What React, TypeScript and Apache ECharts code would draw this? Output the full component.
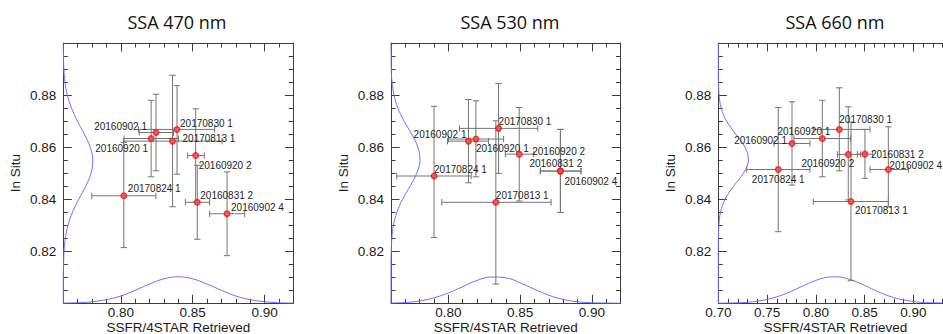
import React, { useEffect, useRef } from 'react';
import * as echarts from 'echarts';

const TITLES = ['SSA 470 nm', 'SSA 530 nm', 'SSA 660 nm'];
const X_NAME = 'SSFR/4STAR Retrieved';
const Y_NAME = 'In Situ';

const POINT_NAMES = ['20160902 1', '20170830 1', '20160920 1', '20170813 1', '20160920 2', '20160831 2', '20170824 1', '20160902 4'];

// SSA 470 nm
const X_470 = [0.8245, 0.8391, 0.8211, 0.836, 0.8521, 0.8532, 0.8021, 0.8739];
const Y_470 = [0.8656, 0.8668, 0.8633, 0.8623, 0.8568, 0.8388, 0.8413, 0.8344];
const X_LO_470 = [0.8128, 0.8123, 0.8023, 0.8018, 0.8465, 0.8449, 0.7798, 0.8618];
const X_HI_470 = [0.8367, 0.8653, 0.8402, 0.8704, 0.8581, 0.8618, 0.8244, 0.8862];
const Y_LO_470 = [0.8509, 0.8496, 0.8486, 0.8371, 0.8389, 0.8246, 0.8214, 0.8183];
const Y_HI_470 = [0.8803, 0.8836, 0.878, 0.8876, 0.8747, 0.853, 0.8618, 0.8505];

// SSA 530 nm
const X_530 = [0.814, 0.835, 0.8192, 0.8331, 0.8494, 0.8781, 0.79, 0.8781];
const Y_530 = [0.8623, 0.8672, 0.8631, 0.8388, 0.8573, 0.8508, 0.8489, 0.8508];
const X_LO_530 = [0.7994, 0.8078, 0.8001, 0.7954, 0.8397, 0.8641, 0.764, 0.8641];
const X_HI_530 = [0.828, 0.8623, 0.8385, 0.8716, 0.8595, 0.8925, 0.8159, 0.8925];
const Y_LO_530 = [0.8463, 0.8499, 0.8486, 0.8074, 0.8393, 0.8349, 0.8253, 0.8349];
const Y_HI_530 = [0.8783, 0.8844, 0.8778, 0.8701, 0.8752, 0.8668, 0.8757, 0.8668];

// SSA 660 nm
const X_660 = [0.7756, 0.8241, 0.8067, 0.8361, 0.8333, 0.8504, 0.7615, 0.8744];
const Y_660 = [0.8614, 0.8668, 0.8633, 0.8391, 0.8572, 0.8573, 0.8514, 0.8514];
const X_LO_660 = [0.7571, 0.7974, 0.7776, 0.7974, 0.8221, 0.8426, 0.7291, 0.8556];
const X_HI_660 = [0.794, 0.8556, 0.8357, 0.8744, 0.846, 0.8583, 0.794, 0.8949];
const Y_LO_660 = [0.8454, 0.8509, 0.8486, 0.8087, 0.8397, 0.848, 0.8275, 0.8371];
const Y_HI_660 = [0.8774, 0.8828, 0.878, 0.8696, 0.8755, 0.8668, 0.8752, 0.8678];

// distribution curves
const CURVE_Y = [0.8, 0.805, 0.81, 0.815, 0.82, 0.825, 0.83, 0.835, 0.84, 0.845, 0.85, 0.855, 0.86, 0.865, 0.87, 0.875, 0.88, 0.885, 0.89, 0.895, 0.9];
const LEFT_CURVE_470 = [0.76, 0.76, 0.76, 0.7602, 0.7605, 0.7614, 0.7633, 0.7664, 0.7708, 0.7756, 0.7793, 0.7805, 0.7787, 0.7746, 0.7698, 0.7657, 0.7628, 0.7612, 0.7604, 0.7601, 0.76];
const LEFT_CURVE_530 = [0.76, 0.76, 0.76, 0.76, 0.7602, 0.7606, 0.7617, 0.7641, 0.7681, 0.7733, 0.778, 0.7802, 0.7787, 0.7744, 0.7691, 0.7648, 0.7621, 0.7607, 0.7602, 0.7601, 0.76];
const LEFT_CURVE_660 = [0.7, 0.7, 0.7, 0.7, 0.7, 0.7001, 0.7006, 0.7023, 0.707, 0.7157, 0.7257, 0.7309, 0.7273, 0.7178, 0.7085, 0.703, 0.7008, 0.7001, 0.7, 0.7, 0.7];

const CURVE_X_12 = [0.76, 0.77, 0.78, 0.79, 0.8, 0.81, 0.82, 0.83, 0.84, 0.85, 0.86, 0.87, 0.88, 0.89, 0.9, 0.91, 0.92];
const CURVE_X_3 = [0.7, 0.71, 0.72, 0.73, 0.74, 0.75, 0.76, 0.77, 0.78, 0.79, 0.8, 0.81, 0.82, 0.83, 0.84, 0.85, 0.86, 0.87, 0.88, 0.89, 0.9, 0.91, 0.92, 0.93, 0.94];
const BOTTOM_CURVE_470 = [0.8001, 0.8002, 0.8006, 0.8014, 0.8028, 0.805, 0.8074, 0.8094, 0.8102, 0.8094, 0.8074, 0.805, 0.8028, 0.8014, 0.8006, 0.8002, 0.8001];
const BOTTOM_CURVE_530 = [0.8001, 0.8003, 0.8009, 0.8021, 0.804, 0.8064, 0.8088, 0.8101, 0.8098, 0.8079, 0.8054, 0.8031, 0.8015, 0.8006, 0.8002, 0.8001, 0.8];
const BOTTOM_CURVE_660 = [0.8, 0.8001, 0.8002, 0.8004, 0.8008, 0.8015, 0.8025, 0.8038, 0.8055, 0.8072, 0.8088, 0.8099, 0.8102, 0.8097, 0.8085, 0.8069, 0.8051, 0.8035, 0.8022, 0.8013, 0.8007, 0.8003, 0.8002, 0.8001, 0.8];

// axes
const X_RANGE_12 = [0.76, 0.92];
const X_RANGE_3 = [0.7, 0.94];
const Y_RANGE = [0.8, 0.9];
const X_LABELS_12 = ['0.80', '0.85', '0.90'];
const X_LABELS_3 = ['0.70', '0.75', '0.80', '0.85', '0.90'];
const Y_LABELS = ['0.82', '0.84', '0.86', '0.88'];

// layout (pixels) and label placement [dx, dy, align]
const GRIDS = [
  { left: 63.3, width: 230, titleX: 177 },
  { left: 391, width: 229.5, titleX: 510 },
  { left: 718.3, width: 234, titleX: 835 },
];
const GRID_TOP = 43;
const GRID_HEIGHT = 260.3;
const LABEL_LAYOUT: [number, number, string][][] = [
  [[-9, -6, 'right'], [3, -6, 'left'], [-3, 10, 'right'], [10, -3, 'left'], [3, 10, 'left'], [3, -7, 'left'], [4, -7, 'left'], [4, -6, 'left']],
  [[-2, -7, 'right'], [0, -7, 'left'], [0, 9, 'left'], [0, -7, 'left'], [13, -3, 'left'], [-31, -8, 'left'], [0, -7, 'left'], [4, 10, 'left']],
  [[-5, -3, 'right'], [0, -10, 'left'], [8, -7, 'right'], [4, 9, 'left'], [6, 9, 'right'], [6, 0, 'left'], [0, 10, 'center'], [1, -4, 'left']],
];

const FONT = '"Liberation Sans", Arial, Helvetica, sans-serif';
const FRAME = '#3c3c3c';
const ERR = '#747474';
const BLUE = '#6f6fff';

const PANELS = [
  { x: X_470, y: Y_470, xlo: X_LO_470, xhi: X_HI_470, ylo: Y_LO_470, yhi: Y_HI_470, left: LEFT_CURVE_470, cx: CURVE_X_12, bottom: BOTTOM_CURVE_470, xr: X_RANGE_12, xl: X_LABELS_12 },
  { x: X_530, y: Y_530, xlo: X_LO_530, xhi: X_HI_530, ylo: Y_LO_530, yhi: Y_HI_530, left: LEFT_CURVE_530, cx: CURVE_X_12, bottom: BOTTOM_CURVE_530, xr: X_RANGE_12, xl: X_LABELS_12 },
  { x: X_660, y: Y_660, xlo: X_LO_660, xhi: X_HI_660, ylo: Y_LO_660, yhi: Y_HI_660, left: LEFT_CURVE_660, cx: CURVE_X_3, bottom: BOTTOM_CURVE_660, xr: X_RANGE_3, xl: X_LABELS_3 },
];

function tickCats(min: number, max: number, step: number) {
  const n = Math.round((max - min) / step);
  const out: string[] = [];
  for (let i = 0; i <= n; i++) out.push((min + i * step).toFixed(3));
  return out;
}
const findLabel = (labels: string[], v: string) => labels.find((l) => Math.abs(parseFloat(l) - parseFloat(v)) < 1e-6);

function buildOption() {
  const grid: any[] = [];
  const xAxis: any[] = [];
  const yAxis: any[] = [];
  const series: any[] = [];
  const title: any[] = [];
  const lineStyle = { color: FRAME, width: 1 };
  const labelStyle = { fontSize: 13.5, fontFamily: FONT, color: '#1b1b1b', lineHeight: 14 };

  PANELS.forEach((p, gi) => {
    const g = GRIDS[gi];
    grid.push({ left: g.left, top: GRID_TOP, width: g.width, height: GRID_HEIGHT, containLabel: false, outerBoundsMode: 'none' });
    title.push({ text: TITLES[gi], left: g.titleX, top: 13, textAlign: 'center', padding: 0, textStyle: { fontFamily: '"Open Sans", sans-serif', fontSize: 18, fontWeight: 'normal', color: '#111' } });

    const xc = tickCats(p.xr[0], p.xr[1], 0.01);
    const yc = tickCats(Y_RANGE[0], Y_RANGE[1], 0.005);
    const xMajor = (_i: number, v: string) => !!findLabel(p.xl, v);
    const yMajor = (_i: number, v: string) => !!findLabel(Y_LABELS, v);
    const cx = { gridIndex: gi, type: 'category', data: xc, boundaryGap: false, splitLine: { show: false }, silent: true };
    const cy = { gridIndex: gi, type: 'category', data: yc, boundaryGap: false, splitLine: { show: false }, silent: true };
    const minorTick = { show: true, inside: true, length: 4.5, interval: 0, lineStyle };
    const noLabel = { show: false };

    xAxis.push(
      { gridIndex: gi, type: 'value', min: p.xr[0], max: p.xr[1], show: false },
      { ...cx, position: 'bottom', axisLine: { show: true, onZero: false, lineStyle }, axisTick: minorTick, axisLabel: noLabel },
      {
        ...cx, position: 'bottom', axisLine: { show: false, onZero: false },
        axisTick: { show: true, inside: true, length: 8.5, interval: xMajor, lineStyle },
        axisLabel: { show: true, interval: 0, margin: 2, formatter: (v: string) => findLabel(p.xl, v) || '', ...labelStyle },
        name: X_NAME, nameLocation: 'middle', nameGap: 17, nameMoveOverlap: false, nameTextStyle: { ...labelStyle },
      },
      { ...cx, position: 'top', axisLine: { show: true, onZero: false, lineStyle }, axisTick: minorTick, axisLabel: noLabel },
      { ...cx, position: 'top', axisLine: { show: false, onZero: false }, axisTick: { show: true, inside: true, length: 8.5, interval: xMajor, lineStyle }, axisLabel: noLabel },
    );
    yAxis.push(
      { gridIndex: gi, type: 'value', min: Y_RANGE[0], max: Y_RANGE[1], show: false },
      { ...cy, position: 'left', axisLine: { show: true, onZero: false, lineStyle }, axisTick: minorTick, axisLabel: noLabel },
      {
        ...cy, position: 'left', axisLine: { show: false, onZero: false },
        axisTick: { show: true, inside: true, length: 8.5, interval: yMajor, lineStyle },
        axisLabel: { show: true, interval: 0, margin: 7, formatter: (v: string) => findLabel(Y_LABELS, v) || '', ...labelStyle },
        name: Y_NAME, nameLocation: 'middle', nameGap: 41, nameMoveOverlap: false, nameTextStyle: { ...labelStyle },
      },
      { ...cy, position: 'right', axisLine: { show: true, onZero: false, lineStyle }, axisTick: minorTick, axisLabel: noLabel },
      { ...cy, position: 'right', axisLine: { show: false, onZero: false }, axisTick: { show: true, inside: true, length: 8.5, interval: yMajor, lineStyle }, axisLabel: noLabel },
    );

    const xi = gi * 5;
    const yi = gi * 5;
    const errData = p.x.map((x, i) => [x, p.y[i], p.xlo[i], p.xhi[i], p.ylo[i], p.yhi[i]]);

    series.push({
      type: 'line', xAxisIndex: xi, yAxisIndex: yi, data: p.left.map((x, i) => [x, CURVE_Y[i]]),
      symbol: 'none', smooth: 0.4, lineStyle: { color: BLUE, width: 1 }, silent: true, z: 1,
    });
    series.push({
      type: 'line', xAxisIndex: xi, yAxisIndex: yi, data: p.bottom.map((y, i) => [p.cx[i], y]),
      symbol: 'none', smooth: 0.4, lineStyle: { color: BLUE, width: 1 }, silent: true, z: 1,
    });
    series.push({
      type: 'custom', xAxisIndex: xi, yAxisIndex: yi, data: errData, silent: true, z: 2,
      encode: { x: [0, 2, 3], y: [1, 4, 5] },
      renderItem: (_params: any, api: any) => {
        const x = api.value(0), y = api.value(1);
        const pL = api.coord([api.value(2), y]);
        const pR = api.coord([api.value(3), y]);
        const pB = api.coord([x, api.value(4)]);
        const pT = api.coord([x, api.value(5)]);
        const c = 3.2;
        const style = { stroke: ERR, lineWidth: 1 };
        const ln = (x1: number, y1: number, x2: number, y2: number) => ({ type: 'line', shape: { x1, y1, x2, y2 }, style });
        return {
          type: 'group',
          children: [
            ln(pL[0], pL[1], pR[0], pR[1]),
            ln(pL[0], pL[1] - c, pL[0], pL[1] + c),
            ln(pR[0], pR[1] - c, pR[0], pR[1] + c),
            ln(pB[0], pB[1], pT[0], pT[1]),
            ln(pB[0] - c, pB[1], pB[0] + c, pB[1]),
            ln(pT[0] - c, pT[1], pT[0] + c, pT[1]),
          ],
        };
      },
    });
    series.push({
      type: 'custom', xAxisIndex: xi, yAxisIndex: yi, silent: true, z: 3,
      data: p.x.map((x, i) => [x, p.y[i], i]),
      encode: { x: 0, y: 1 },
      renderItem: (_params: any, api: any) => {
        const pt = api.coord([api.value(0), api.value(1)]);
        const i = api.value(2);
        const L = LABEL_LAYOUT[gi][i];
        return {
          type: 'text', x: pt[0] + L[0], y: pt[1] + L[1],
          style: {
            text: POINT_NAMES[i], align: L[2], textAlign: L[2], verticalAlign: 'middle', textVerticalAlign: 'middle',
            font: `10px ${FONT}`, fill: '#1e1e1e',
          },
        };
      },
    });
    series.push({
      type: 'scatter', xAxisIndex: xi, yAxisIndex: yi, data: p.x.map((x, i) => [x, p.y[i]]),
      symbol: 'circle', symbolSize: 5.5, silent: true, z: 4,
      itemStyle: { color: '#ff4a4a', borderColor: '#ea1616', borderWidth: 1.5 },
    });
  });

  return { animation: false, backgroundColor: '#ffffff', title, grid, xAxis, yAxis, series };
}

export default function App() {
  const ref = useRef<HTMLDivElement>(null);
  useEffect(() => {
    if (!ref.current) return;
    const chart = echarts.init(ref.current, undefined, { renderer: 'svg' });
    chart.setOption(buildOption() as any);
    return () => chart.dispose();
  }, []);
  return <div ref={ref} style={{ position: 'fixed', left: 0, top: 0, width: 943, height: 334, background: '#fff' }} />;
}
